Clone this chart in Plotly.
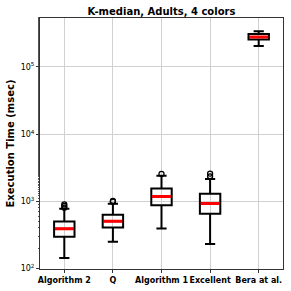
import plotly.graph_objects as go

categories = ["Algorithm 2", "Q", "Algorithm 1", "Excellent", "Bera at al."]
q1 = [296, 407, 873, 650, 256000]
median = [389, 505, 1175, 924, 281000]
q3 = [499, 628, 1545, 1288, 311000]
lower_whisker = [142, 249, 393, 230, 206000]
upper_whisker = [771, 915, 2400, 2150, 340000]
outliers = {
    "Algorithm 2": [800, 850, 900],
    "Q": [985, 1010],
    "Algorithm 1": [2550],
    "Excellent": [2350, 2580],
    "Bera at al.": [],
}

fig = go.Figure()
fig.add_trace(go.Box(
    x=categories, q1=q1, median=median, q3=q3,
    lowerfence=lower_whisker, upperfence=upper_whisker,
    fillcolor="rgba(255,255,255,0)", line=dict(color="black", width=2),
    width=0.42, whiskerwidth=0.5, boxpoints=False, showlegend=False,
))
fig.add_trace(go.Box(
    x=categories, q1=median, median=median, q3=median,
    lowerfence=median, upperfence=median,
    fillcolor="red", line=dict(color="red", width=3),
    width=0.39, whiskerwidth=0, boxpoints=False, showlegend=False,
))
ox, oy = [], []
for c in categories:
    for v in outliers[c]:
        ox.append(c)
        oy.append(v)
fig.add_trace(go.Scatter(
    x=ox, y=oy, mode="markers", showlegend=False,
    marker=dict(symbol="circle-open", size=5, color="black", line=dict(width=1.3)),
))

ytick_vals = [100, 1000, 10000, 100000]
ytick_text = ["10<sup>2</sup>", "10<sup>3</sup>", "10<sup>4</sup>", "10<sup>5</sup>"]

fig.update_layout(
    width=291, height=291,
    margin=dict(l=40, r=8, t=18, b=22, autoexpand=False),
    paper_bgcolor="white", plot_bgcolor="white",
    boxmode="overlay",
    font=dict(family="DejaVu Sans", color="black"),
    title=dict(text="<b>K-median, Adults, 4 colors</b>", x=0.555, xanchor="center",
               y=0.962, yanchor="middle", automargin=False,
               font=dict(size=10, family="DejaVu Sans")),
    xaxis=dict(
        type="category", range=[-0.5, 4.5], automargin=False,
        showgrid=True, gridcolor="#d0d0d0", gridwidth=1,
        showline=True, linecolor="#333", linewidth=1, mirror=True,
        ticks="outside", ticklen=3, tickcolor="#333",
        tickfont=dict(size=8, family="DejaVu Sans", weight="bold"),
        tickangle=0,
    ),
    yaxis=dict(
        type="log", range=[1.99, 5.73], automargin=False,
        tickvals=ytick_vals, ticktext=ytick_text,
        showgrid=True, gridcolor="#d0d0d0", gridwidth=1,
        showline=True, linecolor="#333", linewidth=1, mirror=True,
        ticks="outside", ticklen=3, tickcolor="#333",
        minor=dict(ticks="outside", ticklen=1.5, tickcolor="#555", showgrid=False),
        tickfont=dict(size=8, family="DejaVu Sans"),
        title=dict(text="<b>Execution Time (msec)</b>", standoff=4,
                   font=dict(size=10, family="DejaVu Sans")),
        zeroline=False,
    ),
)

fig.write_html("out.html", config={"displayModeBar": False},
               post_script="document.body.style.margin='0';")
